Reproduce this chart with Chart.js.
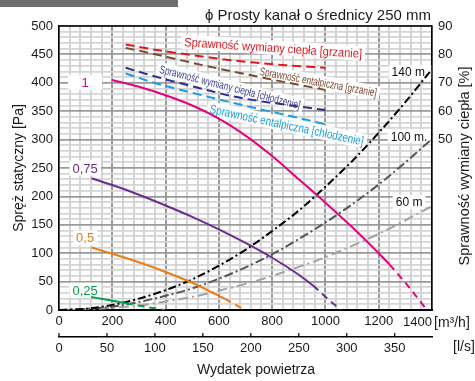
<!DOCTYPE html>
<html>
<head>
<meta charset="utf-8">
<script src="https://cdn.jsdelivr.net/npm/chart.js@4.4.1/dist/chart.umd.min.js"></script>
<style>
  body { margin: 0; background: #fff; }
  #wrap { position: relative; width: 475px; height: 381px; }
  #bar { position: absolute; left: 0; top: 0; width: 178px; height: 7px; background: #6e6e6e; }
</style>
</head>
<body>
<div id="wrap"><canvas id="chart"></canvas><div id="bar"></div></div>
<script>
const FONT = "'Liberation Sans', Arial, sans-serif";

// fan curves: static pressure [Pa] vs air flow [m3/h] (solid part + dashed tail)
const fan1X = [200, 300, 400, 500, 600, 700, 800, 900, 1000, 1100, 1200, 1241];
const fan1Y = [405, 393, 378, 360, 337, 307, 271, 230, 189, 146, 100, 80];
const fan1TailX = [1241, 1300, 1376];
const fan1TailY = [80, 48, 3];

const fan075X = [122, 200, 300, 400, 500, 600, 700, 800, 900, 954];
const fan075Y = [232, 220, 203, 184, 164, 142, 118, 92, 62, 43];
const fan075TailX = [954, 1005, 1058];
const fan075TailY = [43, 21, 0];

const fan05X = [122, 200, 300, 400, 500, 600, 622];
const fan05Y = [110, 99, 84, 67, 48, 25, 20];
const fan05TailX = [622, 660, 697];
const fan05TailY = [20, 10, 0];

const fan025X = [120, 180, 250];
const fan025Y = [23, 18, 12];
const fan025TailX = [250, 320, 397];
const fan025TailY = [12, 6, 0];

// duct system curves (140 m, 100 m, 60 m)
const sysX = [0, 100, 200, 300, 400, 500, 600, 700, 800, 900, 1000, 1100, 1200, 1300, 1400];
const sys140Y = [0, 2, 9, 20, 35, 54, 78, 106, 139, 175, 217, 262, 312, 366, 424];
const sys100Y = [0, 2, 6, 14, 25, 38, 55, 75, 98, 125, 154, 186, 221, 260, 301];
const sys60Y = [0, 1, 4, 8, 15, 23, 34, 46, 60, 76, 93, 113, 134, 158, 183];

// efficiency [%] (right axis)
const effX = [250, 350, 450, 550, 650, 750, 850, 1000];
const effHeat = [83.5, 81.8, 80.4, 79.1, 77.9, 77.0, 76.2, 75.3];
const enthHeat = [82.3, 80.3, 78.1, 76.0, 74.0, 72.1, 70.2, 67.5];
const effCool = [75.3, 72.5, 70.0, 67.6, 65.3, 63.6, 62.3, 60.4];
const enthCool = [73.3, 70.2, 67.7, 65.3, 63.0, 60.8, 58.7, 55.4];

// axis ranges
const flowMax = 1400;
const lsMax = flowMax / 3.6;

const pts = (xs, ys) => xs.map((x, i) => ({ x: x, y: ys[i] }));

function line(data, color, opts) {
  return Object.assign({
    data: data,
    borderColor: color,
    borderWidth: 2,
    pointRadius: 0,
    fill: false,
    cubicInterpolationMode: 'monotone'
  }, opts || {});
}

const DASH = [7, 5];
const EFF_DASH = [9, 5];

const datasets = [
  line(pts(fan1X, fan1Y), '#e4007f'),
  line(pts(fan1TailX, fan1TailY), '#e4007f', { borderDash: DASH }),
  line(pts(fan075X, fan075Y), '#6b2c91'),
  line(pts(fan075TailX, fan075TailY), '#6b2c91', { borderDash: DASH }),
  line(pts(fan05X, fan05Y), '#f07a12'),
  line(pts(fan05TailX, fan05TailY), '#f07a12', { borderDash: DASH }),
  line(pts(fan025X, fan025Y), '#00a04a'),
  line(pts(fan025TailX, fan025TailY), '#00a04a', { borderDash: DASH }),
  line(pts(sysX, sys140Y), '#000000', { borderDash: [8, 3, 2, 3] }),
  line(pts(sysX, sys100Y), '#555555', { borderDash: [9, 3, 2, 3] }),
  line(pts(sysX, sys60Y), '#a3a3a3', { borderDash: [10, 4, 2, 4] }),
  line(pts(effX, effHeat), '#e3161d', { borderDash: EFF_DASH, yAxisID: 'y2' }),
  line(pts(effX, enthHeat), '#7a4a33', { borderDash: EFF_DASH, yAxisID: 'y2' }),
  line(pts(effX, effCool), '#2b2e8c', { borderDash: EFF_DASH, yAxisID: 'y2' }),
  line(pts(effX, enthCool), '#1a9de0', { borderDash: EFF_DASH, yAxisID: 'y2' })
];

/* -------------------------------
   LABELS (anchored in data units)
--------------------------------*/
const tags = [
  { t: '1', x: 98, y: 401, c: '#e4007f', size: 13, w: 34 },
  { t: '0,75', x: 98, y: 250, c: '#6b2c91', size: 13 },
  { t: '0,5', x: 98, y: 127, c: '#f07a12', size: 13 },
  { t: '0,25', x: 98, y: 35, c: '#00a04a', size: 13 },
  { t: '140 m.', x: 1317, y: 419, c: '#111', size: 12 },
  { t: '100 m.', x: 1314, y: 306, c: '#111', size: 12 },
  { t: '60 m', x: 1314, y: 190, c: '#111', size: 12 },
  { t: 'Sprawność wymiany ciepła [grzanie]', x: 804, y: 462, c: '#e3161d', size: 12.5, len: 178, rot: 3.8 },
  { t: 'Sprawność entalpiczna [grzanie]', x: 973, y: 402, c: '#7a4a33', size: 11.5, len: 119, rot: 10.5 },
  { t: 'Sprawność wymiany ciepła [chłodzenie]', x: 642, y: 393, c: '#3a3a96', size: 11.5, len: 145, rot: 14.5 },
  { t: 'Sprawność entalpiczna [chłodzenie]', x: 855, y: 326, c: '#1a9de0', size: 12.5, len: 157, rot: 12 }
];

function tag(ctx, o, cx, cy) {
  ctx.save();
  ctx.translate(cx, cy);
  ctx.rotate((o.rot || 0) * Math.PI / 180);
  ctx.font = o.size + 'px ' + FONT;
  const w = ctx.measureText(o.t).width;
  const sx = o.len ? o.len / w : 1;
  const bw = Math.max(w * sx + 6, o.w || 0);
  const bh = o.size + 2;
  ctx.fillStyle = '#fff';
  ctx.fillRect(-bw / 2, -bh / 2, bw, bh);
  ctx.scale(sx, 1);
  ctx.fillStyle = o.c;
  ctx.textAlign = 'center';
  ctx.textBaseline = 'middle';
  ctx.fillText(o.t, 0, 1);
  ctx.restore();
}

const extras = {
  id: 'extras',
  beforeDatasetsDraw(chart) {
    const { ctx, scales } = chart;
    tags.forEach(o => tag(ctx, o, scales.x.getPixelForValue(o.x), scales.y.getPixelForValue(o.y)));
  },
  afterDraw(chart) {
    const { ctx, chartArea: a, scales } = chart;
    ctx.save();
    // top frame line
    ctx.strokeStyle = '#000';
    ctx.lineWidth = 1.5;
    ctx.beginPath();
    ctx.moveTo(a.left, a.top);
    ctx.lineTo(a.right, a.top);
    ctx.stroke();

    // upward ticks on l/s axis
    const xs = scales.xs;
    ctx.lineWidth = 1.2;
    xs.ticks.forEach(t => {
      if (t.value % 50 !== 0) return;
      const px = xs.getPixelForValue(t.value);
      ctx.beginPath();
      ctx.moveTo(px, xs.top);
      ctx.lineTo(px, xs.top - 4);
      ctx.stroke();
    });

    ctx.fillStyle = '#1a1a1a';
    ctx.textBaseline = 'middle';

    // title
    ctx.font = '15px ' + FONT;
    ctx.textAlign = 'right';
    ctx.fillText('ϕ Prosty kanał o średnicy 250 mm', a.right - 1, 16);

    // last flow tick + units
    ctx.font = '13px ' + FONT;
    ctx.fillText('1400', a.right, 322);
    ctx.font = '14px ' + FONT;
    ctx.textAlign = 'left';
    ctx.fillText('[m³/h]', a.right + 2, 323);
    ctx.fillText('[l/s]', 453, 347);

    // x title
    ctx.textAlign = 'center';
    ctx.fillText('Wydatek powietrza', 256, 370);

    // right axis title
    ctx.save();
    ctx.translate(465, (a.top + a.bottom) / 2 - 2);
    ctx.rotate(-Math.PI / 2);
    ctx.font = '14.5px ' + FONT;
    ctx.fillText('Sprawność wymiany ciepła [%]', 0, 0);
    ctx.restore();

    ctx.restore();
  }
};

const MAJOR = '#9a9a9a';
const MINOR = '#d4d4d4';
const tickFont = { family: FONT, size: 13 };

new Chart(document.getElementById('chart'), {
  type: 'line',
  data: { datasets: datasets },
  options: {
    responsive: true,
    maintainAspectRatio: false,
    animation: false,
    layout: { padding: { top: 26, left: 0, right: 0, bottom: 0 } },
    plugins: { legend: { display: false }, tooltip: { enabled: false } },
    scales: {
      x: {
        type: 'linear',
        position: 'bottom',
        weight: 1,
        min: 0,
        max: flowMax,
        afterFit: s => { s.height = 27; },
        ticks: {
          stepSize: 40,
          autoSkip: false,
          maxRotation: 0,
          padding: 4,
          color: '#1a1a1a',
          font: tickFont,
          callback: v => (v % 200 === 0 && v !== flowMax ? v : '')
        },
        grid: {
          drawTicks: false,
          color: c => (c.tick && c.tick.value % 200 === 0 ? MAJOR : MINOR),
          lineWidth: 2
        },
        border: { color: '#000', width: 2 }
      },
      xs: {
        type: 'linear',
        position: 'bottom',
        weight: 2,
        min: 0,
        max: lsMax,
        afterFit: s => { s.height = 44; },
        ticks: {
          stepSize: 50,
          includeBounds: false,
          autoSkip: false,
          maxRotation: 0,
          padding: 4,
          color: '#1a1a1a',
          font: tickFont,
          callback: v => (v % 50 === 0 ? v : '')
        },
        grid: { drawOnChartArea: false, drawTicks: false },
        border: { color: '#000', width: 1.5 }
      },
      y: {
        position: 'left',
        min: 0,
        max: 500,
        afterFit: s => { s.width = 59; },
        ticks: {
          stepSize: 10,
          autoSkip: false,
          padding: 6,
          color: '#1a1a1a',
          font: tickFont,
          callback: v => (v % 50 === 0 ? v : '')
        },
        grid: {
          drawTicks: false,
          color: c => (c.tick && c.tick.value % 50 === 0 ? MAJOR : MINOR),
          lineWidth: 1.8
        },
        border: { color: '#000', width: 1.5 },
        title: {
          display: true,
          text: 'Spręż statyczny [Pa]',
          color: '#1a1a1a',
          font: { family: FONT, size: 14 },
          padding: { top: 11, bottom: 0 }
        }
      },
      y2: {
        position: 'right',
        min: -10,
        max: 90,
        afterFit: s => { s.width = 43; },
        ticks: {
          stepSize: 10,
          autoSkip: false,
          padding: 6,
          color: '#1a1a1a',
          font: tickFont,
          callback: v => (v >= 50 ? v : '')
        },
        grid: { drawOnChartArea: false, drawTicks: false },
        border: { color: '#000', width: 1.5 }
      }
    }
  },
  plugins: [extras]
});
</script>
</body>
</html>
